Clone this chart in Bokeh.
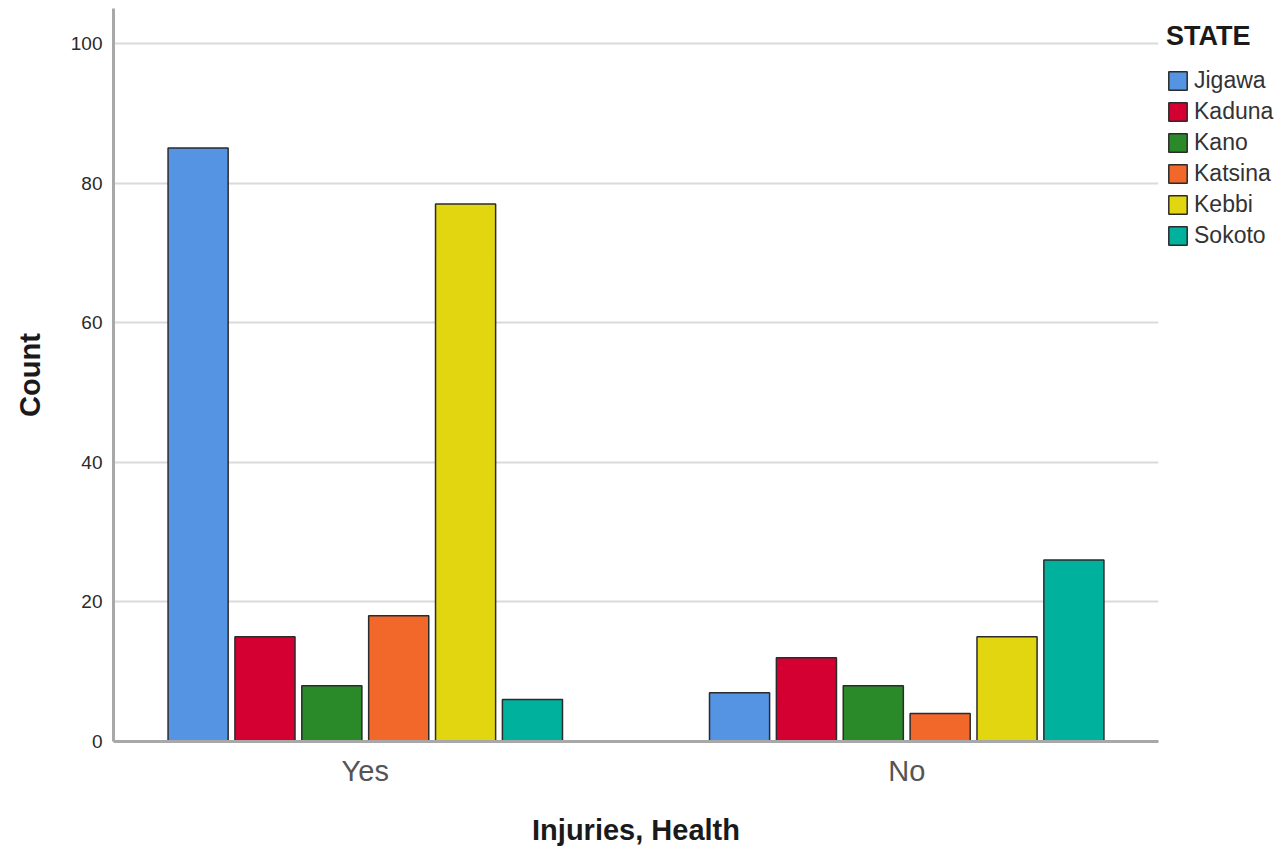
from bokeh.plotting import figure
from bokeh.models import ColumnDataSource, FactorRange, Range1d, Legend, LegendItem
from bokeh.layouts import row
from bokeh.transform import dodge
from bokeh.embed import file_html
from bokeh.resources import INLINE

groups = ["Yes", "No"]
states = ["Jigawa", "Kaduna", "Kano", "Katsina", "Kebbi", "Sokoto"]
colors = ["#5593e3", "#d50032", "#2a8a2a", "#f2682a", "#e2d610", "#00b29e"]
counts = {
    "Jigawa": [85, 7],
    "Kaduna": [15, 12],
    "Kano": [8, 8],
    "Katsina": [18, 4],
    "Kebbi": [77, 15],
    "Sokoto": [6, 26],
}
y_ticks = [0, 20, 40, 60, 80, 100]

data = {"group": groups}
data.update(counts)
source = ColumnDataSource(data)

H = 848
p = figure(
    width=1160, height=H,
    x_range=FactorRange(factors=groups, range_padding=-0.035, range_padding_units="absolute"),
    y_range=Range1d(0, 105),
    output_backend="svg", toolbar_location=None,
    min_border_left=113, min_border_right=2, min_border_top=8, min_border_bottom=0,
)
p.outline_line_color = None

step = 0.1235
width = 0.111
for i, (s, c) in enumerate(zip(states, colors)):
    off = (i - 2.5) * step
    p.vbar(x=dodge("group", off, range=p.x_range), top=s, width=width, source=source,
           fill_color=c, line_color="#2b2b2b", line_width=1.5)

p.yaxis.ticker = y_ticks
p.yaxis.axis_label = "Count"
p.xaxis.axis_label = "Injuries, Health"
for ax in (p.xaxis, p.yaxis):
    ax.axis_line_color = "#a8a8a8"
    ax.axis_line_width = 3
    ax.major_tick_line_color = None
    ax.minor_tick_line_color = None
    ax.axis_label_text_font = "Liberation Sans"
    ax.axis_label_text_font_style = "bold"
    ax.axis_label_text_font_size = "29px"
    ax.axis_label_text_color = "#1a1a1a"
    ax.major_label_text_font = "Liberation Sans"
p.yaxis.major_label_text_font_size = "19px"
p.yaxis.major_label_text_color = "#2a2a2a"
p.yaxis.major_label_standoff = 5
p.yaxis.axis_label_standoff = 22
p.xaxis.major_label_text_font_size = "29px"
p.xaxis.major_label_text_color = "#555555"
p.xaxis.major_label_standoff = 7
p.xaxis.axis_label_standoff = 24

p.xgrid.grid_line_color = None
p.ygrid.grid_line_color = "#dadada"
p.ygrid.grid_line_width = 2

# legend panel (its own small figure, placed to the right of the chart)
lg = figure(width=120, height=H, x_range=Range1d(0, 1), y_range=Range1d(0, 1),
            output_backend="svg", toolbar_location=None,
            x_axis_location=None, y_axis_location=None,
            min_border_left=0, min_border_right=0, min_border_top=8, min_border_bottom=0)
lg.outline_line_color = None
lg.grid.visible = False
items = []
for s, c in zip(states, colors):
    r = lg.vbar(x=[0.5], top=[float("nan")], width=0.1,
                fill_color=c, line_color="#2b2b2b", line_width=1.5)
    items.append(LegendItem(label=s, renderers=[r]))

legend = Legend(items=items, location=(6, 492))
legend.title = "STATE"
legend.title_text_font = "Liberation Sans"
legend.title_text_font_style = "bold"
legend.title_text_font_size = "27px"
legend.title_text_color = "#1a1a1a"
legend.title_standoff = 15
legend.label_text_font = "Liberation Sans"
legend.label_text_font_size = "23px"
legend.label_text_color = "#333333"
legend.glyph_width = 23
legend.glyph_height = 23
legend.label_height = 23
legend.spacing = 4
legend.padding = 0
legend.margin = 0
legend.label_standoff = 5
legend.border_line_color = None
legend.background_fill_alpha = 0
lg.add_layout(legend, "center")

layout = row(p, lg)
open("out.html", "w").write(file_html(layout, INLINE))
